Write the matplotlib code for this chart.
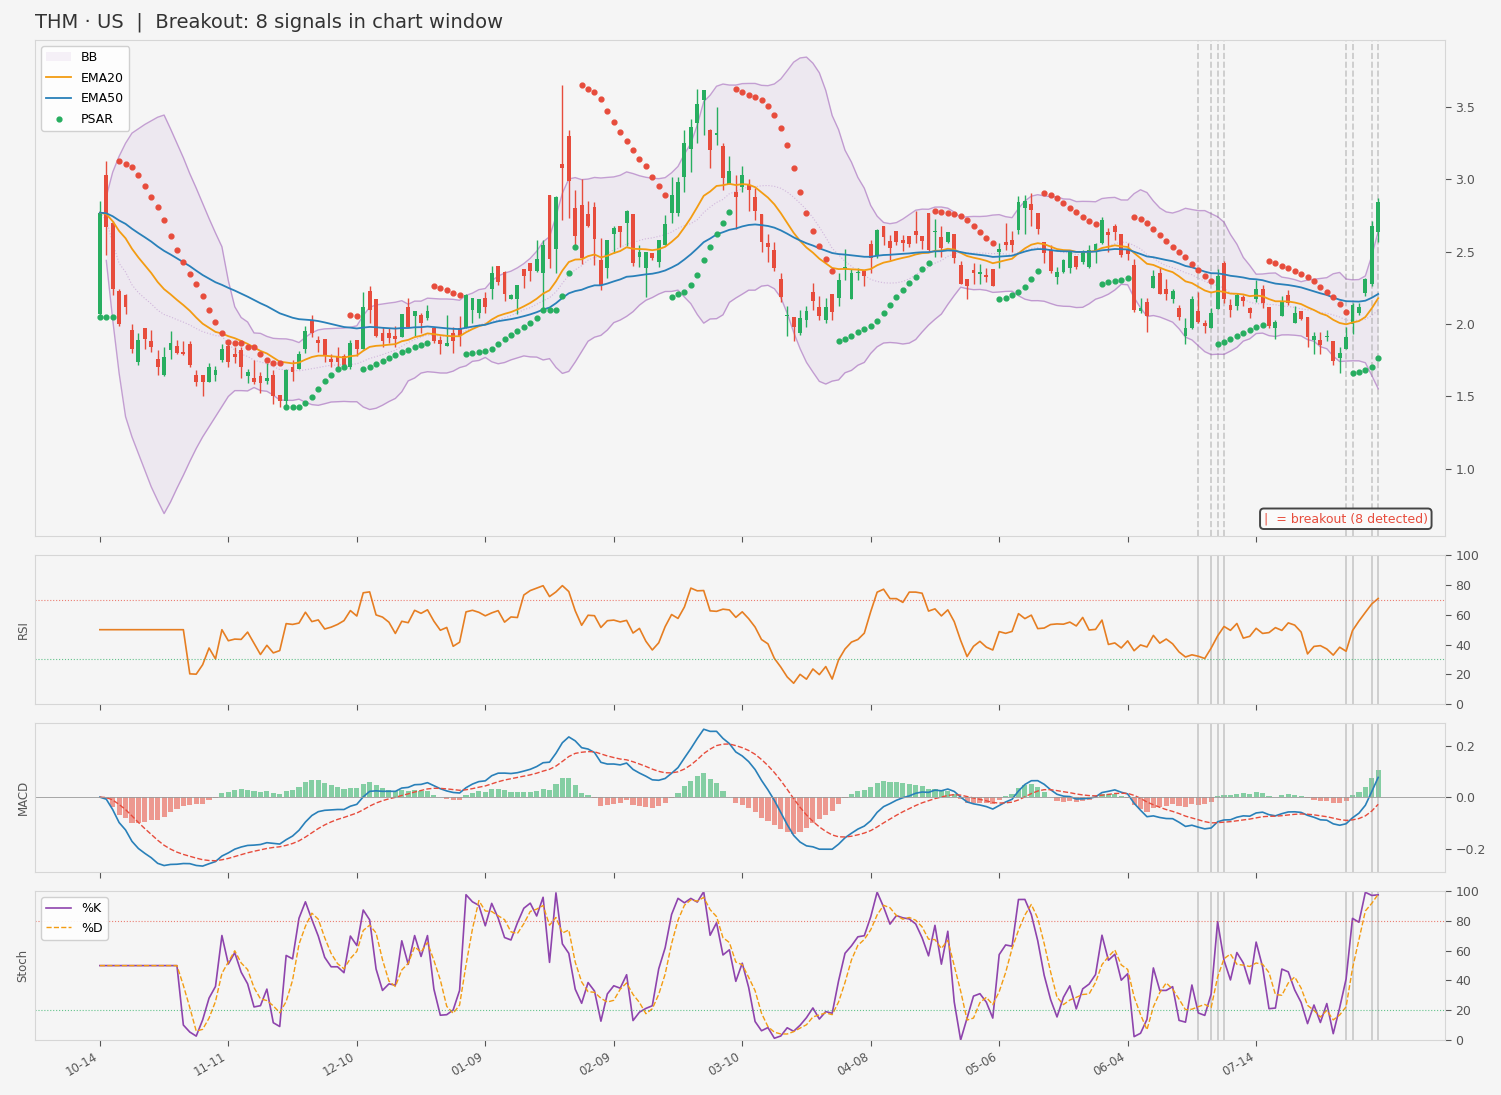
import numpy as np
import pandas as pd
import matplotlib
matplotlib.use("Agg")
import matplotlib.pyplot as plt

TITLE = "THM · US  |  Breakout: 8 signals in chart window"
TICK_POS = [0, 20, 40, 60, 80, 100, 120, 140, 160, 180]
TICK_LABELS = ["10-14", "11-11", "12-10", "01-09", "02-09", "03-10",
               "04-08", "05-06", "06-04", "07-14"]
BREAKOUTS = [171, 173, 174, 175, 194, 195, 198, 199]

# daily OHLC
OPEN = [2.07, 3.03, 2.70, 2.23, 2.20, 1.96, 1.74, 1.97, 1.88, 1.76,
        1.65, 1.82, 1.85, 1.81, 1.86, 1.645, 1.645, 1.60, 1.65, 1.75,
        1.85, 1.79, 1.82, 1.64, 1.63, 1.64, 1.61, 1.645, 1.51, 1.47,
        1.70, 1.69, 1.83, 2.03, 1.89, 1.90, 1.76, 1.77, 1.78, 1.70,
        1.89, 1.83, 2.23, 2.17, 1.935, 1.935, 1.92, 1.91, 2.115, 2.055,
        2.065, 2.04, 1.975, 1.89, 1.85, 1.935, 1.97, 1.97, 2.10, 2.075,
        2.18, 2.24, 2.40, 2.36, 2.17, 2.17, 2.38, 2.42, 2.37, 2.35,
        2.89, 2.52, 3.11, 3.30, 2.80, 2.82, 2.76, 2.81, 2.44, 2.39,
        2.62, 2.68, 2.70, 2.76, 2.465, 2.39, 2.49, 2.43, 2.55, 2.77,
        2.77, 3.02, 3.21, 3.39, 3.55, 3.34, 3.31, 3.23, 2.97, 2.915,
        2.945, 2.96, 2.88, 2.76, 2.56, 2.515, 2.315, 2.055, 2.05, 1.94,
        2.03, 2.22, 2.115, 2.03, 2.205, 2.18, 2.38, 2.17, 2.35, 2.37,
        2.555, 2.47, 2.68, 2.575, 2.645, 2.58, 2.61, 2.645, 2.61, 2.765,
        2.635, 2.605, 2.57, 2.62, 2.41, 2.315, 2.375, 2.345, 2.34, 2.38,
        2.50, 2.565, 2.58, 2.65, 2.80, 2.83, 2.765, 2.565, 2.515, 2.325,
        2.36, 2.385, 2.47, 2.43, 2.395, 2.50, 2.56, 2.64, 2.675, 2.62,
        2.52, 2.41, 2.09, 2.155, 2.25, 2.35, 2.245, 2.17, 2.11, 1.92,
        1.975, 2.09, 2.005, 1.97, 2.105, 2.425, 2.13, 2.125, 2.185, 2.11,
        2.17, 2.245, 2.12, 1.97, 2.055, 2.20, 2.01, 2.09, 2.05, 1.89,
        1.89, 1.91, 1.885, 1.765, 1.83, 2.00, 2.08, 2.215, 2.275, 2.64]
HIGH = [2.85, 3.13, 2.71, 2.24, 2.21, 2.00, 1.94, 1.97, 1.96, 1.82,
        1.84, 1.95, 1.89, 1.88, 1.88, 1.68, 1.65, 1.73, 1.71, 1.86,
        1.87, 1.84, 1.84, 1.69, 1.75, 1.67, 1.73, 1.68, 1.51, 1.69,
        1.75, 1.815, 1.99, 2.06, 1.92, 1.90, 1.79, 1.84, 1.79, 1.89,
        1.89, 2.22, 2.26, 2.17, 1.98, 1.97, 1.99, 2.07, 2.18, 2.09,
        2.08, 2.13, 1.98, 1.92, 2.06, 1.98, 2.055, 2.21, 2.18, 2.175,
        2.22, 2.40, 2.40, 2.37, 2.205, 2.27, 2.38, 2.42, 2.58, 2.58,
        2.89, 2.885, 3.65, 3.34, 2.93, 3.005, 2.85, 2.845, 2.595, 2.58,
        2.675, 2.68, 2.79, 2.76, 2.545, 2.50, 2.49, 2.58, 2.755, 3.02,
        3.02, 3.34, 3.42, 3.625, 3.62, 3.35, 3.50, 3.25, 3.16, 3.03,
        3.09, 3.00, 2.94, 2.76, 2.62, 2.57, 2.35, 2.125, 2.05, 2.10,
        2.125, 2.285, 2.195, 2.18, 2.205, 2.35, 2.52, 2.38, 2.39, 2.37,
        2.58, 2.655, 2.68, 2.615, 2.645, 2.615, 2.61, 2.78, 2.61, 2.765,
        2.725, 2.675, 2.64, 2.62, 2.435, 2.315, 2.425, 2.415, 2.39, 2.38,
        2.56, 2.70, 2.645, 2.885, 2.89, 2.905, 2.765, 2.565, 2.545, 2.395,
        2.45, 2.495, 2.47, 2.51, 2.545, 2.56, 2.74, 2.665, 2.69, 2.62,
        2.56, 2.45, 2.18, 2.18, 2.375, 2.395, 2.31, 2.24, 2.13, 2.04,
        2.195, 2.225, 2.03, 2.11, 2.38, 2.435, 2.17, 2.215, 2.20, 2.12,
        2.305, 2.27, 2.12, 2.03, 2.195, 2.235, 2.125, 2.09, 2.05, 1.945,
        1.945, 1.96, 1.885, 1.845, 1.98, 2.145, 2.145, 2.32, 2.71, 2.875]
LOW = [2.05, 2.48, 2.20, 1.99, 2.07, 1.80, 1.72, 1.83, 1.81, 1.65,
       1.64, 1.76, 1.79, 1.785, 1.70, 1.57, 1.50, 1.60, 1.61, 1.74,
       1.70, 1.73, 1.63, 1.59, 1.585, 1.525, 1.585, 1.45, 1.43, 1.43,
       1.61, 1.69, 1.80, 1.91, 1.81, 1.74, 1.705, 1.705, 1.705, 1.69,
       1.78, 1.83, 2.01, 1.91, 1.84, 1.87, 1.84, 1.91, 1.98, 1.92,
       1.94, 2.03, 1.87, 1.79, 1.85, 1.80, 1.85, 1.97, 2.01, 2.04,
       2.08, 2.17, 2.27, 2.16, 2.17, 2.07, 2.25, 2.30, 2.36, 2.10,
       2.385, 2.35, 2.72, 2.73, 2.55, 2.415, 2.67, 2.41, 2.235, 2.32,
       2.49, 2.53, 2.54, 2.405, 2.395, 2.19, 2.44, 2.395, 2.55, 2.70,
       2.75, 2.91, 3.05, 3.25, 3.31, 3.08, 3.24, 2.93, 2.97, 2.66,
       2.91, 2.78, 2.72, 2.50, 2.43, 2.37, 2.15, 1.92, 1.885, 1.925,
       1.98, 2.10, 2.03, 2.01, 2.03, 2.125, 2.305, 2.17, 2.305, 2.26,
       2.35, 2.46, 2.545, 2.445, 2.545, 2.505, 2.535, 2.56, 2.52, 2.50,
       2.465, 2.465, 2.56, 2.42, 2.28, 2.17, 2.28, 2.28, 2.29, 2.26,
       2.39, 2.51, 2.50, 2.62, 2.62, 2.68, 2.62, 2.42, 2.35, 2.28,
       2.35, 2.35, 2.38, 2.415, 2.385, 2.42, 2.555, 2.50, 2.58, 2.465,
       2.445, 2.085, 2.08, 1.945, 2.25, 2.21, 2.165, 2.145, 2.03, 1.865,
       1.965, 2.005, 1.94, 1.97, 2.105, 2.145, 2.05, 2.095, 2.125, 2.04,
       2.155, 2.11, 1.97, 1.90, 2.055, 2.13, 2.005, 2.03, 1.845, 1.795,
       1.795, 1.88, 1.72, 1.66, 1.825, 1.93, 2.06, 2.195, 2.26, 2.57]
CLOSE = [2.77, 2.67, 2.24, 2.00, 2.12, 1.83, 1.89, 1.90, 1.84, 1.70,
         1.77, 1.87, 1.80, 1.79, 1.72, 1.60, 1.60, 1.70, 1.68, 1.83,
         1.74, 1.77, 1.705, 1.67, 1.60, 1.59, 1.63, 1.50, 1.47, 1.68,
         1.67, 1.79, 1.95, 1.94, 1.87, 1.78, 1.74, 1.74, 1.715, 1.87,
         1.83, 2.12, 2.10, 1.92, 1.88, 1.905, 1.90, 2.07, 1.98, 2.09,
         2.01, 2.09, 1.885, 1.86, 1.87, 1.885, 1.92, 2.20, 2.18, 2.17,
         2.12, 2.35, 2.29, 2.21, 2.20, 2.27, 2.33, 2.37, 2.45, 2.55,
         2.45, 2.88, 3.08, 2.99, 2.61, 2.46, 2.68, 2.59, 2.27, 2.58,
         2.665, 2.64, 2.78, 2.42, 2.50, 2.50, 2.455, 2.58, 2.695, 2.89,
         2.98, 3.25, 3.36, 3.52, 3.62, 3.20, 3.32, 3.01, 3.06, 2.88,
         3.03, 2.93, 2.78, 2.57, 2.53, 2.385, 2.19, 2.06, 1.98, 2.045,
         2.09, 2.16, 2.055, 2.115, 2.085, 2.305, 2.395, 2.35, 2.36, 2.33,
         2.46, 2.65, 2.60, 2.525, 2.57, 2.56, 2.555, 2.615, 2.575, 2.515,
         2.64, 2.525, 2.64, 2.46, 2.28, 2.26, 2.35, 2.36, 2.325, 2.26,
         2.52, 2.55, 2.545, 2.845, 2.85, 2.79, 2.66, 2.49, 2.37, 2.36,
         2.445, 2.495, 2.395, 2.495, 2.515, 2.555, 2.72, 2.615, 2.64, 2.475,
         2.485, 2.10, 2.11, 2.055, 2.33, 2.21, 2.21, 2.23, 2.05, 1.97,
         2.17, 2.015, 1.99, 2.08, 2.33, 2.17, 2.095, 2.20, 2.16, 2.08,
         2.24, 2.145, 1.985, 2.015, 2.155, 2.145, 2.08, 2.035, 1.91, 1.915,
         1.855, 1.92, 1.745, 1.80, 1.91, 2.13, 2.115, 2.315, 2.68, 2.845]

# Bollinger edges for bars 1-21 as drawn (the warm-up bulge), computed after that
BB_UP_HEAD = [2.88, 3.05, 3.16, 3.25, 3.32, 3.35, 3.38, 3.405, 3.43, 3.445,
              3.35, 3.25, 3.15, 3.04, 2.94, 2.835, 2.73, 2.63, 2.535, 2.30, 2.12]
BB_LO_HEAD = [2.44, 2.03, 1.66, 1.36, 1.22, 1.105, 0.99, 0.875, 0.78, 0.69,
              0.77, 0.865, 0.955, 1.05, 1.14, 1.22, 1.29, 1.36, 1.43, 1.50, 1.54]

UP, DOWN = "#27ae60", "#e74c3c"
BG = "#f5f5f5"


def psar(high, low, step=0.02, max_af=0.2):
    n = len(high)
    sar = np.zeros(n); bull = np.zeros(n, dtype=bool)
    sar[0], bull[0] = low[0], True
    ep, af, up = high[0], step, True
    for i in range(1, n):
        s = sar[i - 1] + af * (ep - sar[i - 1])
        if up:
            s = min(s, low[i - 1], low[max(i - 2, 0)])
            if low[i] < s:
                up, s, ep, af = False, ep, low[i], step
            elif high[i] > ep:
                ep, af = high[i], min(af + step, max_af)
        else:
            s = max(s, high[i - 1], high[max(i - 2, 0)])
            if high[i] > s:
                up, s, ep, af = True, ep, high[i], step
            elif low[i] < ep:
                ep, af = low[i], min(af + step, max_af)
        sar[i], bull[i] = s, up
    return sar, bull


df = pd.DataFrame({"open": OPEN, "high": HIGH, "low": LOW, "close": CLOSE})
c = df["close"]
x = np.arange(len(df))
ema20 = c.ewm(span=20, adjust=False).mean()
ema50 = c.ewm(span=50, adjust=False).mean()
mid = c.rolling(20, min_periods=1).mean()
sd = c.rolling(20, min_periods=1).std()
bb_up, bb_lo = (mid + 2 * sd).values, (mid - 2 * sd).values
nh = len(BB_UP_HEAD)
bb_up[1:nh + 1], bb_lo[1:nh + 1] = BB_UP_HEAD, BB_LO_HEAD
sar, bull = psar(df["high"].values, df["low"].values)

d = c.diff()
gain = d.clip(lower=0).rolling(14).mean()
loss = (-d.clip(upper=0)).rolling(14).mean()
rsi = (100 - 100 / (1 + gain / loss)).fillna(50)

macd = c.ewm(span=12, adjust=False).mean() - c.ewm(span=26, adjust=False).mean()
signal = macd.ewm(span=9, adjust=False).mean()
hist = macd - signal

ll = df["low"].rolling(14).min(); hh = df["high"].rolling(14).max()
k = (100 * (c - ll) / (hh - ll)).fillna(50)
dline = k.rolling(3, min_periods=1).mean()

plt.rcParams.update({"font.family": "DejaVu Sans", "axes.edgecolor": "#d6d6d6",
                     "xtick.color": "#555555", "ytick.color": "#555555"})
fig, axes = plt.subplots(4, 1, figsize=(15.01, 10.95), dpi=100, sharex=True,
                         gridspec_kw={"height_ratios": [10, 3, 3, 3], "hspace": 0.081})
fig.patch.set_facecolor(BG)
fig.subplots_adjust(left=0.0233, right=0.9627, top=0.9635, bottom=0.0502)
ax, ax_rsi, ax_macd, ax_st = axes
for a in axes:
    a.set_facecolor(BG)
    a.yaxis.tick_right()
    a.tick_params(labelsize=9, length=4)

# price panel
ax.fill_between(x, bb_lo, bb_up, color="#9b59b6", alpha=0.08, lw=0, label="BB")
ax.plot(x, bb_up, color="#9b59b6", lw=1, alpha=0.55)
ax.plot(x, bb_lo, color="#9b59b6", lw=1, alpha=0.55)
ax.plot(x, mid, color="#9b59b6", lw=0.8, alpha=0.35, ls=":")
col = np.where(df["close"] >= df["open"], UP, DOWN)
ax.vlines(x, df["low"], df["high"], colors=col, lw=1, zorder=3)
body = (df["close"] - df["open"]).abs().clip(lower=0.006)
ax.bar(x, body, bottom=df[["open", "close"]].min(axis=1), width=0.6, color=col, zorder=4)
ax.plot(x, ema20, color="#f39c12", lw=1.3, label="EMA20", zorder=5)
ax.plot(x, ema50, color="#2980b9", lw=1.3, label="EMA50", zorder=5)
ax.scatter(x[bull], sar[bull], s=12, color=UP, label="PSAR", zorder=6)
ax.scatter(x[~bull], sar[~bull], s=12, color=DOWN, zorder=6)
for b in BREAKOUTS:
    ax.axvline(b, color="#aaaaaa", ls="--", lw=1.2, alpha=0.6, zorder=1)
ax.set_ylim(0.534, 3.964)
ax.legend(loc="upper left", fontsize=9, framealpha=0.9, edgecolor="#cccccc",
          labelspacing=0.6)
ax.text(0.9878, 0.022, "|  = breakout (8 detected)", transform=ax.transAxes, ha="right",
        va="bottom", color=DOWN, fontsize=9, zorder=10,
        bbox=dict(boxstyle="round,pad=0.3", fc="#fafafa", ec="#444444", lw=1.4))
ax.set_title(TITLE, loc="left", fontsize=14, color="#333333", pad=9)

# RSI
ax_rsi.plot(x, rsi, color="#e67e22", lw=1.2)
ax_rsi.axhline(70, color=DOWN, ls=":", lw=0.8, alpha=0.7)
ax_rsi.axhline(30, color=UP, ls=":", lw=0.8, alpha=0.7)
ax_rsi.set_ylim(0, 100)
ax_rsi.set_yticks([0, 20, 40, 60, 80, 100])
ax_rsi.set_ylabel("RSI", fontsize=8.5, color="#555555")

# MACD
ax_macd.bar(x, hist, width=0.8, color=np.where(hist >= 0, UP, DOWN), alpha=0.55)
ax_macd.plot(x, macd, color="#2980b9", lw=1.2)
ax_macd.plot(x, signal, color=DOWN, lw=1, ls="--")
ax_macd.axhline(0, color="#999999", lw=0.6)
ax_macd.set_ylim(-0.291, 0.287)
ax_macd.set_yticks([-0.2, 0.0, 0.2])
ax_macd.set_ylabel("MACD", fontsize=8.5, color="#555555")

# Stochastic
ax_st.plot(x, k, color="#8e44ad", lw=1.2, label="%K")
ax_st.plot(x, dline, color="#f39c12", lw=1, ls="--", label="%D")
ax_st.axhline(80, color=DOWN, ls=":", lw=0.8, alpha=0.7)
ax_st.axhline(20, color=UP, ls=":", lw=0.8, alpha=0.7)
ax_st.set_ylim(0, 100)
ax_st.set_yticks([0, 20, 40, 60, 80, 100])
ax_st.set_ylabel("Stoch", fontsize=8.5, color="#555555")
ax_st.legend(loc="upper left", fontsize=9, framealpha=0.9, edgecolor="#cccccc")

for a in axes[1:]:
    for b in BREAKOUTS:
        a.axvline(b, color="#aaaaaa", lw=1.2, alpha=0.6, zorder=1)

ax.set_xlim(-10.1, 209.4)
ax_st.set_xticks(TICK_POS)
ax_st.set_xticklabels(TICK_LABELS, rotation=30, ha="right", fontsize=8.5)

fig.savefig("out.png", dpi=100, facecolor=BG)
